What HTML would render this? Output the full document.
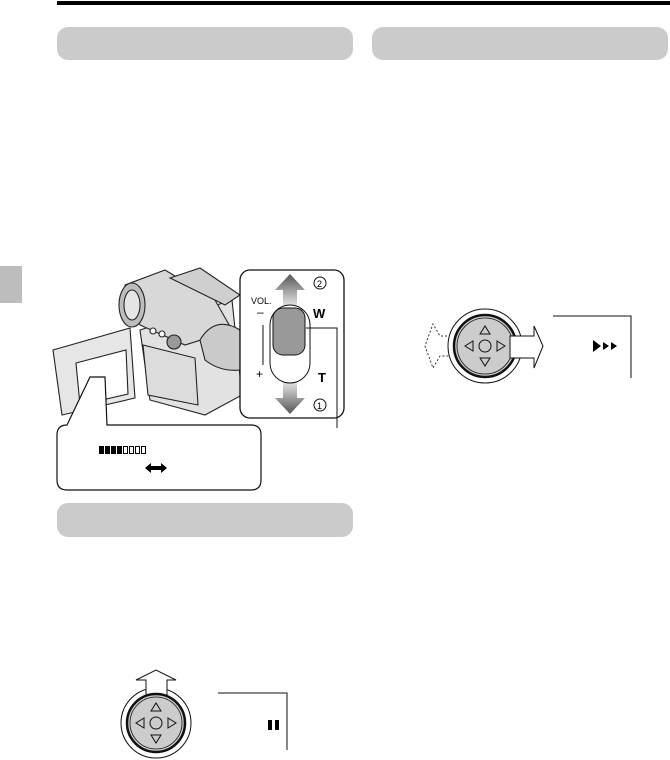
<!DOCTYPE html>
<html><head><meta charset="utf-8"><style>
body{margin:0;background:#fff;}
svg{display:block;font-family:"Liberation Sans",sans-serif;}
</style></head><body>
<svg width="670" height="760" viewBox="0 0 670 760" xmlns="http://www.w3.org/2000/svg">
<defs>
<linearGradient id="ga" x1="0" y1="0" x2="0" y2="1"><stop offset="0" stop-color="#555"/><stop offset="1" stop-color="#eee"/></linearGradient>
<linearGradient id="gb" x1="0" y1="0" x2="0" y2="1"><stop offset="0" stop-color="#eee"/><stop offset="1" stop-color="#555"/></linearGradient>
</defs>
<rect x="57" y="1" width="613" height="4" fill="#000"/>
<rect x="0" y="266" width="22" height="37" fill="#bdbdbd"/>
<rect x="57" y="27" width="296" height="33" rx="11" fill="#cbcbcb"/>
<rect x="372" y="27" width="296" height="33" rx="11" fill="#cbcbcb"/>
<rect x="57" y="503" width="296" height="34" rx="11" fill="#cbcbcb"/>

<!-- camera -->
<g stroke="#222" stroke-width="1.1">
<path d="M140 330 L232 300 L242 395 L205 415 L150 400 Z" fill="#e2e2e2"/>
<path d="M125 285 L165 270 L215 300 L232 330 L185 345 L140 325 Z" fill="#d8d8d8"/>
<path d="M170 278 L200 268 L240 295 L225 305 Z" fill="#cfcfcf"/>
<ellipse cx="132" cy="305" rx="13" ry="22" fill="#bdbdbd"/>
<ellipse cx="132" cy="305" rx="8" ry="15" fill="#e5e5e5"/>
<path d="M200 340 Q215 315 240 330 L240 370 Q220 372 205 360 Z" fill="#cacaca"/>
<circle cx="174" cy="342" r="7" fill="#999"/>
<circle cx="162" cy="334" r="3" fill="#fff"/>
<circle cx="153" cy="331" r="3" fill="#fff"/>
<path d="M143 345 L195 358 L198 405 L148 395 Z" fill="#dcdcdc"/>
<path d="M53 350 L130 328 L135 398 L62 415 Z" fill="#e6e6e6"/>
<path d="M76 363 L126 350 L128 394 L80 405 Z" fill="#fff"/>
</g>
<!-- vol panel -->
<rect x="240" y="270" width="104" height="148" rx="10" fill="#fff" stroke="#111" stroke-width="1.3"/>
<path d="M275 290 L290 274 L305 290 L297 290 L297 308 L283 308 L283 290 Z" fill="url(#ga)"/>
<path d="M275 398 L290 414 L305 398 L297 398 L297 380 L283 380 L283 398 Z" fill="url(#gb)"/>
<rect x="270" y="305" width="40" height="78" rx="20" fill="#fff" stroke="#111"/>
<rect x="273" y="308" width="32" height="47" rx="10" fill="#999" stroke="#111"/>
<line x1="263" y1="325" x2="263" y2="365" stroke="#111"/>
<text x="251" y="304" font-size="9">VOL.</text>
<text x="257" y="316" font-size="12">–</text>
<text x="256" y="378" font-size="12">+</text>
<text x="313" y="318" font-size="13" font-weight="bold">W</text>
<text x="318" y="382" font-size="13" font-weight="bold">T</text>
<circle cx="320" cy="283" r="6" fill="none" stroke="#111"/><text x="317" y="287" font-size="9">2</text>
<circle cx="320" cy="405" r="6" fill="none" stroke="#111"/><text x="317" y="409" font-size="9">1</text>
<polyline points="306,328 337,328 337,428" fill="none" stroke="#111"/>
<!-- callout -->
<path d="M67 425 L90 377 L105 377 L107 425 L251 425 Q261 425 261 435 L261 480 Q261 490 251 490 L67 490 Q57 490 57 480 L57 435 Q57 425 67 425 Z" fill="#fff" stroke="#111" stroke-width="1.2"/>
<g fill="#000"><rect x="99" y="446" width="5" height="8"/><rect x="105" y="446" width="5" height="8"/><rect x="111" y="446" width="5" height="8"/><rect x="117" y="446" width="5" height="8"/></g>
<g fill="none" stroke="#000"><rect x="123.5" y="446.5" width="4" height="7"/><rect x="129.5" y="446.5" width="4" height="7"/><rect x="135.5" y="446.5" width="4" height="7"/><rect x="141.5" y="446.5" width="4" height="7"/></g>
<path d="M145 468 L151 463 L151 466 L161 466 L161 463 L167 468 L161 473 L161 470 L151 470 L151 473 Z" fill="#000"/>

<!-- right dial -->
<path d="M455 336 L440 336 L433 324 L425 346 L433 368 L440 356 L455 356" fill="#fff" stroke="#333" stroke-dasharray="2,2"/>
<circle cx="485" cy="346" r="37" fill="#fff" stroke="#111"/>
<circle cx="485" cy="346" r="31" fill="#ccc" stroke="#111" stroke-width="2.5"/>
<circle cx="485" cy="346" r="28" fill="none" stroke="#111" stroke-width="0.8"/>
<path d="M510 336 L534 336 L534 326 L543 346 L534 368 L534 358 L510 358 Z" fill="#fff" stroke="#111"/>
<g fill="none" stroke="#111"><circle cx="485" cy="346" r="6"/><path d="M480 334 L485 326 L490 334 Z M480 358 L485 366 L490 358 Z M473 341 L465 346 L473 351 Z M497 341 L505 346 L497 351 Z"/></g>
<polyline points="553,316 631,316 631,378" fill="none" stroke="#111"/>
<path d="M593 340 L601 346 L593 352 Z M603 342 L609 346 L603 350 Z M611 342 L617 346 L611 350 Z" fill="#000"/>

<!-- bottom dial -->
<circle cx="156" cy="723" r="35" fill="#fff" stroke="#111"/>
<path d="M146 700 L146 680 L136 680 L156 670 L176 680 L167 680 L167 700" fill="#fff" stroke="#111"/>
<circle cx="156" cy="723" r="29" fill="#ccc" stroke="#111" stroke-width="2.5"/>
<circle cx="156" cy="723" r="26" fill="none" stroke="#111" stroke-width="0.8"/>
<g fill="none" stroke="#111"><circle cx="156" cy="723" r="6"/><path d="M151 711 L156 703 L161 711 Z M151 735 L156 743 L161 735 Z M144 718 L136 723 L144 728 Z M168 718 L176 723 L168 728 Z"/></g>
<polyline points="218,693 287,693 287,750" fill="none" stroke="#111"/>
<rect x="268" y="720" width="4" height="10" fill="#000"/><rect x="275" y="720" width="4" height="10" fill="#000"/>
</svg>
</body></html>
